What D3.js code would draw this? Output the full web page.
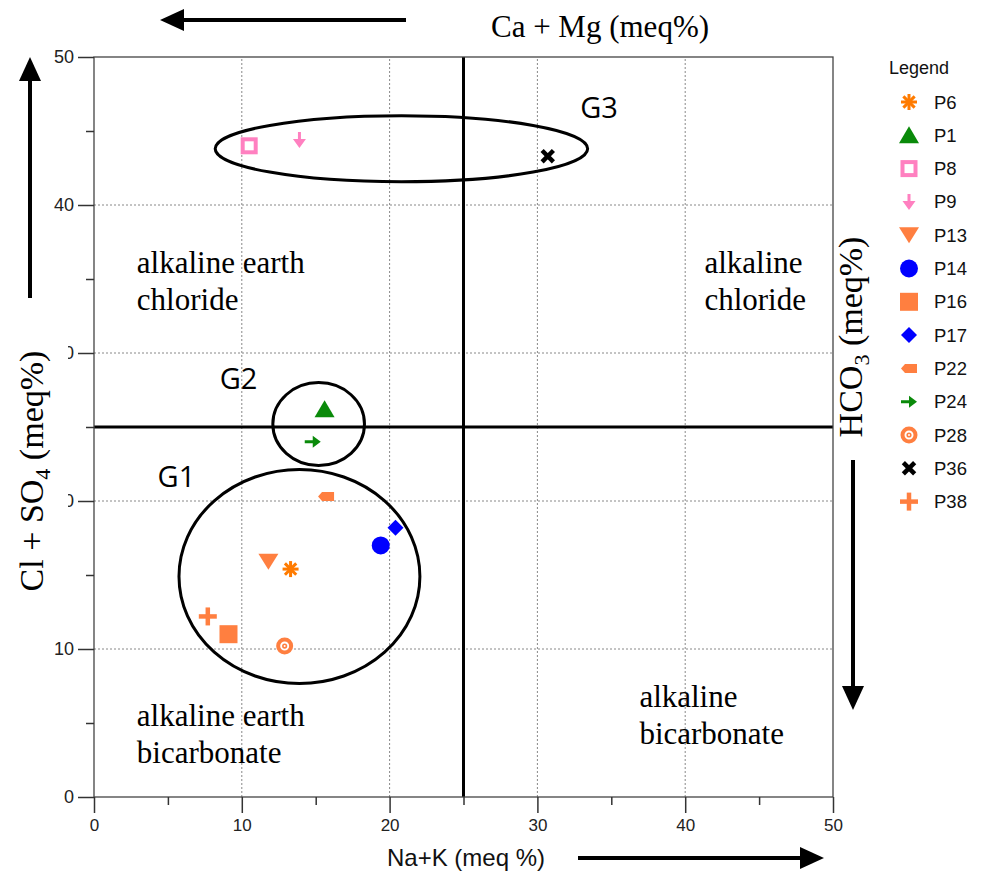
<!DOCTYPE html>
<html>
<head>
<meta charset="utf-8">
<script src="https://cdnjs.cloudflare.com/ajax/libs/d3/7.8.5/d3.min.js"></script>
<style>
    body { margin: 0; background: #fff; }
    .tick text { fill: #222; font-family: "Liberation Sans", Arial, sans-serif; }
</style>
</head>
<body>
<div class="chart"></div>
<script>

// sample values
const sampleNames = ["P6", "P1", "P8", "P9", "P13", "P14", "P16", "P17", "P22", "P24", "P28", "P36", "P38"];
const naK = [13.3, 15.6, 10.5, 13.9, 11.8, 19.4, 9.1, 20.4, 15.7, 14.8, 12.9, 30.7, 7.7];
const clSO4 = [15.4, 26.2, 44.0, 44.4, 15.9, 17.0, 11.0, 18.2, 20.3, 24.0, 10.2, 43.3, 12.2];

// group ellipses (data units)
const groupNames = ["G1", "G2", "G3"];
const groupCx = [13.9, 15.2, 20.8];
const groupCy = [14.9, 25.2, 43.8];
const groupRx = [8.15, 3.1, 12.6];
const groupRy = [7.23, 2.8, 2.23];
const groupLabelX = [4.3, 8.5, 32.9];
const groupLabelY = [20.95, 27.6, 45.9];

// quadrant names
const quadLines = [["alkaline earth", "chloride"], ["alkaline", "chloride"], ["alkaline earth", "bicarbonate"], ["alkaline", "bicarbonate"]];
const quadX = [2.9, 41.3, 2.9, 36.9];
const quadY = [35.4, 35.4, 4.8, 6.1];

const majorTicks = [0, 10, 20, 30, 40, 50];
const minorTicks = [5, 15, 25, 35, 45];
const gridTicks = [10, 20, 30, 40];

// marker style per sample
const markerStyle = {
    P6: {shape: "asterisk", color: "#ff7b00"},
    P1: {shape: "triangleUp", color: "#0a8a0a"},
    P8: {shape: "hollowSquare", color: "#ff80c0"},
    P9: {shape: "arrowDown", color: "#ff80c0"},
    P13: {shape: "triangleDown", color: "#ff7f40"},
    P14: {shape: "circle", color: "#0000ff"},
    P16: {shape: "square", color: "#ff7f40"},
    P17: {shape: "diamond", color: "#0000ff"},
    P22: {shape: "pentLeft", color: "#ff7f40"},
    P24: {shape: "arrowRight", color: "#0a8a0a"},
    P28: {shape: "target", color: "#ff7f40"},
    P36: {shape: "cross", color: "#000"},
    P38: {shape: "plus", color: "#ff7f40"}
};

const W = 982, H = 876;
const margin = {top: 57, right: 149, bottom: 79, left: 94};

const svg = d3.select(".chart").append("svg")
    .attr("width", W)
    .attr("height", H);

const x = d3.scaleLinear().domain([0, 50]).range([margin.left, W - margin.right]);
const y = d3.scaleLinear().domain([0, 50]).range([H - margin.bottom, margin.top]);

// dotted grid
svg.append("g").selectAll("line.gx")
    .data(gridTicks).enter()
    .append("line")
    .attr("x1", d => x(d)).attr("x2", d => x(d))
    .attr("y1", y(0)).attr("y2", y(50))
    .attr("stroke", "#888").attr("stroke-width", 1).attr("stroke-dasharray", "2,2");
svg.append("g").selectAll("line.gy")
    .data(gridTicks).enter()
    .append("line")
    .attr("y1", d => y(d)).attr("y2", d => y(d))
    .attr("x1", x(0)).attr("x2", x(50))
    .attr("stroke", "#888").attr("stroke-width", 1).attr("stroke-dasharray", "2,2");

// thick dividing lines at 25
svg.append("line")
    .attr("x1", x(25)).attr("x2", x(25)).attr("y1", y(0)).attr("y2", y(50))
    .attr("stroke", "#000").attr("stroke-width", 3);
svg.append("line")
    .attr("x1", x(0)).attr("x2", x(50)).attr("y1", y(25)).attr("y2", y(25))
    .attr("stroke", "#000").attr("stroke-width", 3);

// frame
svg.append("rect")
    .attr("x", x(0)).attr("y", y(50))
    .attr("width", x(50) - x(0)).attr("height", y(0) - y(50))
    .attr("fill", "none").attr("stroke", "#444").attr("stroke-width", 1.3);

// axes
function styleAxis(g) {
    g.select(".domain").remove();
    g.selectAll(".tick line").attr("stroke", "#333").attr("stroke-width", 1.5);
}
svg.append("g")
    .attr("transform", `translate(0,${y(0)})`)
    .call(d3.axisBottom(x).tickValues(majorTicks).tickSize(16).tickPadding(6).tickFormat(d3.format("d")))
    .call(styleAxis)
    .selectAll("text").style("font-size", "17px");
svg.append("g")
    .attr("transform", `translate(0,${y(0)})`)
    .call(d3.axisBottom(x).tickValues(minorTicks).tickSize(8).tickFormat(""))
    .call(styleAxis);
svg.append("g")
    .attr("transform", `translate(${x(0)},0)`)
    .call(d3.axisLeft(y).tickValues(majorTicks).tickSize(16).tickPadding(4).tickFormat(d3.format("d")))
    .call(styleAxis)
    .selectAll("text").style("font-size", "18px");
svg.append("g")
    .attr("transform", `translate(${x(0)},0)`)
    .call(d3.axisLeft(y).tickValues(minorTicks).tickSize(8).tickFormat(""))
    .call(styleAxis);

// arrows
function arrow(x1, y1, x2, y2) {
    let ang = Math.atan2(y2 - y1, x2 - x1);
    let len = 24, hw = 11;
    let bx = x2 - len * Math.cos(ang), by = y2 - len * Math.sin(ang);
    svg.append("line")
        .attr("x1", x1).attr("y1", y1).attr("x2", bx).attr("y2", by)
        .attr("stroke", "#000").attr("stroke-width", 4);
    let px = -Math.sin(ang) * hw, py = Math.cos(ang) * hw;
    svg.append("path")
        .attr("d", `M${x2},${y2}L${bx + px},${by + py}L${bx - px},${by - py}Z`)
        .attr("fill", "#000");
}
arrow(406, 20, 160, 20);
arrow(578, 858, 824, 858);
arrow(30, 298, 30, 57);
arrow(853, 460, 853, 710);

// axis titles
const serif = "'Liberation Serif', 'Times New Roman', serif";

// white box behind the left title (hides part of the 20 and 30 labels, as in the original)
svg.append("rect")
    .attr("x", 0).attr("y", 330).attr("width", 68).attr("height", 280)
    .attr("fill", "#fff");

let leftTitle = svg.append("text")
    .attr("transform", "translate(43,471) rotate(-90)")
    .attr("text-anchor", "middle")
    .style("font-family", serif).style("font-size", "34px").attr("fill", "#000");
leftTitle.append("tspan").text("Cl +  SO");
leftTitle.append("tspan").attr("baseline-shift", "-30%").style("font-size", "22px").text("4");
leftTitle.append("tspan").text(" (meq%)");

let rightTitle = svg.append("text")
    .attr("transform", "translate(862,337) rotate(-90)")
    .attr("text-anchor", "middle")
    .style("font-family", serif).style("font-size", "34px").attr("fill", "#000");
rightTitle.append("tspan").text("HCO");
rightTitle.append("tspan").attr("baseline-shift", "-30%").style("font-size", "22px").text("3");
rightTitle.append("tspan").text(" (meq%)");

svg.append("text")
    .attr("x", 600).attr("y", 37)
    .attr("text-anchor", "middle")
    .style("font-family", serif).style("font-size", "31px")
    .text("Ca + Mg (meq%)");

svg.append("text")
    .attr("x", 466).attr("y", 866)
    .attr("text-anchor", "middle")
    .style("font-family", "'Liberation Sans', Arial, sans-serif").style("font-size", "24px").attr("fill", "#111")
    .text("Na+K (meq %)");

// quadrant labels
quadLines.forEach(function (lines, i) {
    let t = svg.append("text")
        .attr("x", x(quadX[i])).attr("y", y(quadY[i]))
        .style("font-family", serif).style("font-size", "31px").attr("fill", "#000");
    lines.forEach(function (ln, j) {
        t.append("tspan").attr("x", x(quadX[i])).attr("dy", j === 0 ? 0 : 37).text(ln);
    });
});

// group ellipses
groupNames.forEach(function (g, i) {
    svg.append("ellipse")
        .attr("cx", x(groupCx[i])).attr("cy", y(groupCy[i]))
        .attr("rx", x(groupRx[i]) - x(0)).attr("ry", y(0) - y(groupRy[i]))
        .attr("fill", "none").attr("stroke", "#000").attr("stroke-width", 3);
    svg.append("text")
        .attr("x", x(groupLabelX[i])).attr("y", y(groupLabelY[i]))
        .style("font-family", "'Open Sans', 'Noto Sans', sans-serif").style("font-size", "29px")
        .text(g);
});

// draw one marker shape at the origin of g
function drawMarker(g, shape, color) {
    if (shape === "asterisk") {
        [0, 45, 90, 135].forEach(function (a) {
            g.append("line").attr("x1", -8).attr("x2", 8).attr("y1", 0).attr("y2", 0)
                .attr("transform", `rotate(${a})`)
                .attr("stroke", color).attr("stroke-width", 3);
        });
    } else if (shape === "triangleUp") {
        g.append("path").attr("d", "M0,-9L10,8L-10,8Z").attr("fill", color);
    } else if (shape === "triangleDown") {
        g.append("path").attr("d", "M0,8L10,-8L-10,-8Z").attr("fill", color);
    } else if (shape === "hollowSquare") {
        g.append("rect").attr("x", -6.5).attr("y", -6.5).attr("width", 13).attr("height", 13)
            .attr("fill", "#fff").attr("stroke", color).attr("stroke-width", 4);
    } else if (shape === "square") {
        g.append("rect").attr("x", -9).attr("y", -9).attr("width", 18).attr("height", 18).attr("fill", color);
    } else if (shape === "circle") {
        g.append("circle").attr("r", 9).attr("fill", color);
    } else if (shape === "diamond") {
        g.append("path").attr("d", "M0,-8L8,0L0,8L-8,0Z").attr("fill", color);
    } else if (shape === "arrowDown") {
        g.append("path").attr("d", "M-1.5,-8L1.5,-8L1.5,-1L6.5,-1L0,8L-6.5,-1L-1.5,-1Z").attr("fill", color);
    } else if (shape === "arrowRight") {
        g.append("path").attr("d", "M-8,-1.5L0,-1.5L0,-6L8,0L0,6L0,1.5L-8,1.5Z").attr("fill", color);
    } else if (shape === "pentLeft") {
        g.append("path").attr("d", "M-8,0L-4,-4.5L8,-4.5L8,4.5L-4,4.5Z").attr("fill", color);
    } else if (shape === "target") {
        g.append("circle").attr("r", 6.5).attr("fill", "#fff").attr("stroke", color).attr("stroke-width", 4);
        g.append("circle").attr("r", 1.8).attr("fill", "#fff").attr("stroke", color).attr("stroke-width", 1.6);
    } else if (shape === "cross") {
        [45, 135].forEach(function (a) {
            g.append("line").attr("x1", -8).attr("x2", 8).attr("y1", 0).attr("y2", 0)
                .attr("transform", `rotate(${a})`)
                .attr("stroke", color).attr("stroke-width", 4.5);
        });
    } else if (shape === "plus") {
        [0, 90].forEach(function (a) {
            g.append("line").attr("x1", -9).attr("x2", 9).attr("y1", 0).attr("y2", 0)
                .attr("transform", `rotate(${a})`)
                .attr("stroke", color).attr("stroke-width", 4.5);
        });
    }
}

// sample points
sampleNames.forEach(function (name, i) {
    let g = svg.append("g")
        .attr("class", "point")
        .attr("transform", `translate(${x(naK[i])},${y(clSO4[i])})`);
    drawMarker(g, markerStyle[name].shape, markerStyle[name].color);
});

// legend
let legend = svg.append("g").attr("class", "legend");
legend.append("text")
    .attr("x", 889).attr("y", 74)
    .style("font-family", "'Liberation Sans', Arial, sans-serif").style("font-size", "18px").attr("fill", "#111")
    .text("Legend");
sampleNames.forEach(function (name, i) {
    let ly = 102 + i * 33.3;
    let g = legend.append("g").attr("transform", `translate(909,${ly})`);
    drawMarker(g, markerStyle[name].shape, markerStyle[name].color);
    legend.append("text")
        .attr("x", 934).attr("y", ly + 6.5)
        .style("font-family", "'Liberation Sans', Arial, sans-serif").style("font-size", "18.5px").attr("fill", "#111")
        .text(name);
});

</script>
</body>
</html>
